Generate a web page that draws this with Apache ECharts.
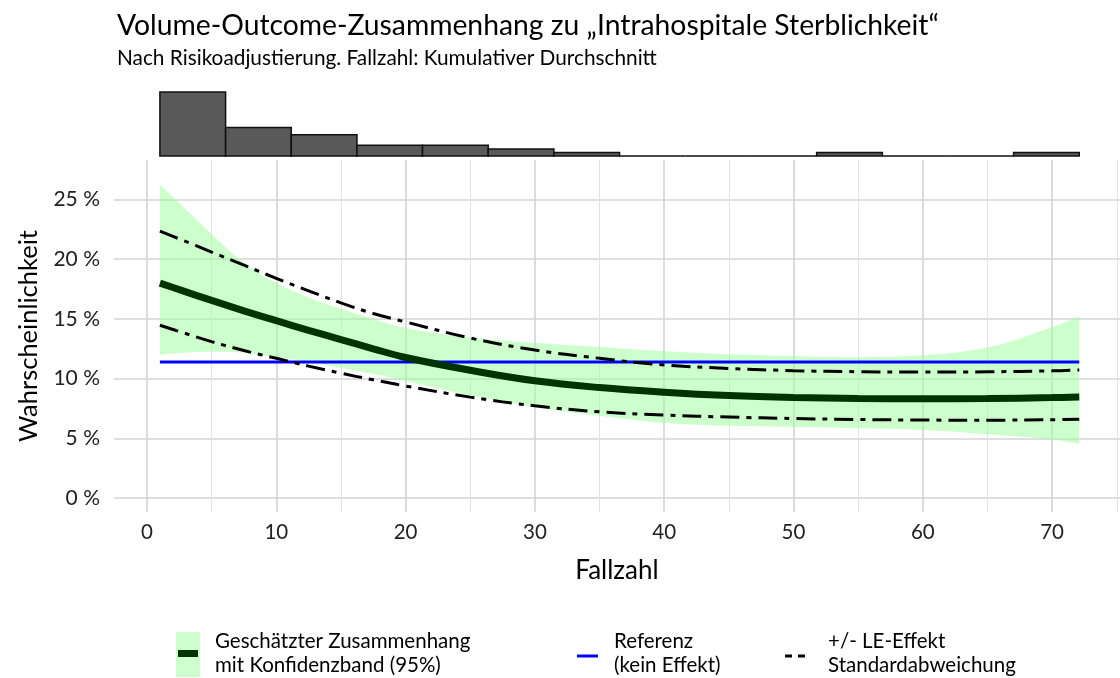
<!DOCTYPE html>
<html>
<head>
<meta charset="utf-8">
<script src="https://cdn.jsdelivr.net/npm/echarts@6/dist/echarts.min.js"></script>
<style>
html,body{margin:0;padding:0;background:#fff;}
#chart{width:1120px;height:678px;}
</style>
</head>
<body>
<div id="chart"></div>
<script>
// ---- data ----
const xs        = [1, 2.5, 5, 7.5, 10, 12.5, 15, 17.5, 20, 25, 30, 35, 40, 45, 50, 55, 60, 65, 70, 72.1];
const estimate  = [18.0, 17.45, 16.55, 15.68, 14.85, 14.05, 13.27, 12.5, 11.77, 10.7, 9.82, 9.25, 8.86, 8.58, 8.42, 8.34, 8.31, 8.33, 8.41, 8.46];
const ciUpper   = [26.26, 24.7, 22.1, 19.7, 18.0, 16.8, 15.85, 15.0, 14.25, 13.45, 13.0, 12.65, 12.3, 12.05, 11.9, 11.8, 11.95, 12.6, 14.3, 15.2];
const ciLower   = [12.0, 12.15, 12.25, 12.15, 11.8, 11.4, 10.9, 10.4, 9.8, 8.6, 7.6, 6.9, 6.3, 6.05, 5.95, 5.85, 5.7, 5.35, 4.9, 4.55];
const sdUpper   = [22.35, 21.7, 20.6, 19.5, 18.4, 17.35, 16.35, 15.45, 14.75, 13.4, 12.4, 11.7, 11.15, 10.85, 10.67, 10.58, 10.55, 10.57, 10.65, 10.72];
const sdLower   = [14.47, 13.95, 13.1, 12.35, 11.7, 11.05, 10.45, 9.9, 9.38, 8.45, 7.72, 7.22, 6.95, 6.78, 6.66, 6.58, 6.53, 6.52, 6.56, 6.6];
const referenceValue = 11.4;
const referenceRange = [1, 72.1];
const binEdges  = [1, 6.08, 11.16, 16.24, 21.31, 26.39, 31.47, 36.55, 41.63, 46.71, 51.79, 56.87, 61.94, 67.02, 72.1];
const binCounts = [18, 8, 6, 3, 3, 2, 1, 0, 0, 0, 1, 0, 0, 1];

const titleText    = 'Volume-Outcome-Zusammenhang zu \u201EIntrahospitale Sterblichkeit\u201C';
const subtitleText = 'Nach Risikoadjustierung. Fallzahl: Kumulativer Durchschnitt';
const xName = 'Fallzahl';
const yName = 'Wahrscheinlichkeit';
const legendTexts = ['Geschätzter Zusammenhang\nmit Konfidenzband (95%)', 'Referenz\n(kein Effekt)', '+/- LE-Effekt\nStandardabweichung'];

// ---- build ----
const FONT = 'Lato';
const SMOOTH = 0.4;
const DASHDOT = [19, 7, 5, 7];
const pair = (a) => xs.map((x, i) => [x, a[i]]);
const histData = binCounts.map((c, i) => [binEdges[i], binEdges[i + 1], c]);

// smooth path through pixel points (cubic Bézier, same idea as the line series' smoothing)
function smoothSegments(pts) {
  let d = '';
  const n = pts.length;
  const cps = pts.map((p, i) => {
    const prev = pts[Math.max(i - 1, 0)], next = pts[Math.min(i + 1, n - 1)];
    const vx = next[0] - prev[0], vy = next[1] - prev[1];
    const d0 = Math.hypot(p[0] - prev[0], p[1] - prev[1]);
    const d1 = Math.hypot(next[0] - p[0], next[1] - p[1]);
    const s = d0 + d1 || 1;
    return {
      inC: [p[0] - vx * SMOOTH * d0 / s, p[1] - vy * SMOOTH * d0 / s],
      outC: [p[0] + vx * SMOOTH * d1 / s, p[1] + vy * SMOOTH * d1 / s]
    };
  });
  for (let i = 1; i < n; i++) {
    const a = cps[i - 1].outC, b = cps[i].inC, p = pts[i];
    d += ' C' + a[0] + ',' + a[1] + ' ' + b[0] + ',' + b[1] + ' ' + p[0] + ',' + p[1];
  }
  return d;
}

const chart = echarts.init(document.getElementById('chart'), null, {renderer: 'canvas'});
const XMIN = -2.55, XMAX = 75.25;

const option = {
  animation: false,
  backgroundColor: '#fff',
  textStyle: {fontFamily: FONT},
  title: [
    {text: titleText, left: 112, top: 7, padding: 5, textStyle: {fontFamily: FONT, fontSize: 28.3, fontWeight: 'normal', color: '#000'}},
    {text: subtitleText, left: 112, top: 43, padding: 5, textStyle: {fontFamily: FONT, fontSize: 20.8, fontWeight: 'normal', color: '#000'}}
  ],
  grid: [
    {left: 114, right: 0, top: 160, height: 352},
    {left: 114, right: 0, top: 92, height: 64}
  ],
  xAxis: [
    {
      type: 'value', gridIndex: 0, min: XMIN, max: XMAX, splitNumber: 8,
      name: xName, nameLocation: 'middle', nameGap: 46,
      nameTextStyle: {fontFamily: FONT, fontSize: 26, color: '#000'},
      axisLine: {show: false}, axisTick: {show: false},
      axisLabel: {fontFamily: FONT, fontSize: 20.5, color: '#222', margin: 10, showMinLabel: false, showMaxLabel: false},
      splitLine: {show: true, showMinLine: false, showMaxLine: false, lineStyle: {color: '#d4d4d4', width: 1.6}},
      minorTick: {show: false, splitNumber: 2},
      minorSplitLine: {show: true, lineStyle: {color: '#e2e2e2', width: 1}}
    },
    {
      type: 'value', gridIndex: 1, min: XMIN, max: XMAX,
      axisLine: {show: false}, axisTick: {show: false}, axisLabel: {show: false}, splitLine: {show: false}
    }
  ],
  yAxis: [
    {
      type: 'value', gridIndex: 0, min: -1.17, max: 28.31, splitNumber: 6,
      name: yName, nameLocation: 'middle', nameGap: 72,
      nameTextStyle: {fontFamily: FONT, fontSize: 25.5, color: '#000'},
      axisLine: {show: false}, axisTick: {show: false},
      axisLabel: {fontFamily: FONT, fontSize: 21, color: '#222', margin: 14, showMinLabel: false, showMaxLabel: false,
                  formatter: (v) => v + ' %'},
      splitLine: {show: true, showMinLine: false, showMaxLine: false, lineStyle: {color: '#d4d4d4', width: 1.6}}
    },
    {
      type: 'value', gridIndex: 1, min: 0, max: 18,
      axisLine: {show: false}, axisTick: {show: false}, axisLabel: {show: false}, splitLine: {show: false}
    }
  ],
  series: [
    {
      name: 'Konfidenzband', type: 'custom', data: [[xs[0], ciLower[0]]], silent: true, z: 1,
      renderItem: function (params, api) {
        const up = xs.map((x, i) => api.coord([x, ciUpper[i]]));
        const lo = xs.map((x, i) => api.coord([x, ciLower[i]])).reverse();
        const d = 'M' + up[0][0] + ',' + up[0][1] + smoothSegments(up) +
                  ' L' + lo[0][0] + ',' + lo[0][1] + smoothSegments(lo) + ' Z';
        return {type: 'path', shape: {pathData: d}, style: {fill: 'rgba(153,255,153,0.5)'}};
      }
    },
    {
      name: 'Referenz', type: 'line', data: referenceRange.map(x => [x, referenceValue]),
      symbol: 'none', lineStyle: {color: '#0000ff', width: 3}, z: 3
    },
    {
      name: 'sdUpper', type: 'line', data: pair(sdUpper), smooth: SMOOTH, symbol: 'none',
      lineStyle: {color: '#000', width: 3, type: DASHDOT, cap: 'butt'}, z: 4
    },
    {
      name: 'sdLower', type: 'line', data: pair(sdLower), smooth: SMOOTH, symbol: 'none',
      lineStyle: {color: '#000', width: 3, type: DASHDOT, cap: 'butt'}, z: 4
    },
    {
      name: 'Schätzung', type: 'line', data: pair(estimate), smooth: SMOOTH, symbol: 'none',
      lineStyle: {color: '#003300', width: 7, cap: 'butt'}, z: 5
    },
    {
      name: 'Histogramm', type: 'custom', xAxisIndex: 1, yAxisIndex: 1, data: histData,
      renderItem: function (params, api) {
        const p0 = api.coord([api.value(0), 0]);
        const p1 = api.coord([api.value(1), api.value(2)]);
        return {
          type: 'rect',
          shape: {x: p0[0], y: p1[1], width: p1[0] - p0[0], height: p0[1] - p1[1]},
          style: {fill: '#595959', stroke: '#111', lineWidth: 1.5}
        };
      },
      z: 2
    }
  ],
  graphic: [
    {type: 'rect', shape: {x: 176, y: 632, width: 24, height: 45}, style: {fill: '#ccffcc'}},
    {type: 'rect', shape: {x: 178, y: 650, width: 20, height: 7}, style: {fill: '#003300'}},
    {type: 'text', x: 215, y: 629, style: {text: legendTexts[0], font: '20.5px ' + FONT, fill: '#000', lineHeight: 24}},
    {type: 'line', shape: {x1: 577, y1: 656, x2: 598, y2: 656}, style: {stroke: '#0000ff', lineWidth: 3}},
    {type: 'text', x: 614, y: 629, style: {text: legendTexts[1], font: '20.5px ' + FONT, fill: '#000', lineHeight: 24}},
    {type: 'line', shape: {x1: 785, y1: 656, x2: 805, y2: 656}, style: {stroke: '#000', lineWidth: 3, lineDash: [7, 6]}},
    {type: 'text', x: 828, y: 629, style: {text: legendTexts[2], font: '20.5px ' + FONT, fill: '#000', lineHeight: 24}}
  ]
};
chart.setOption(option);
</script>
</body>
</html>
